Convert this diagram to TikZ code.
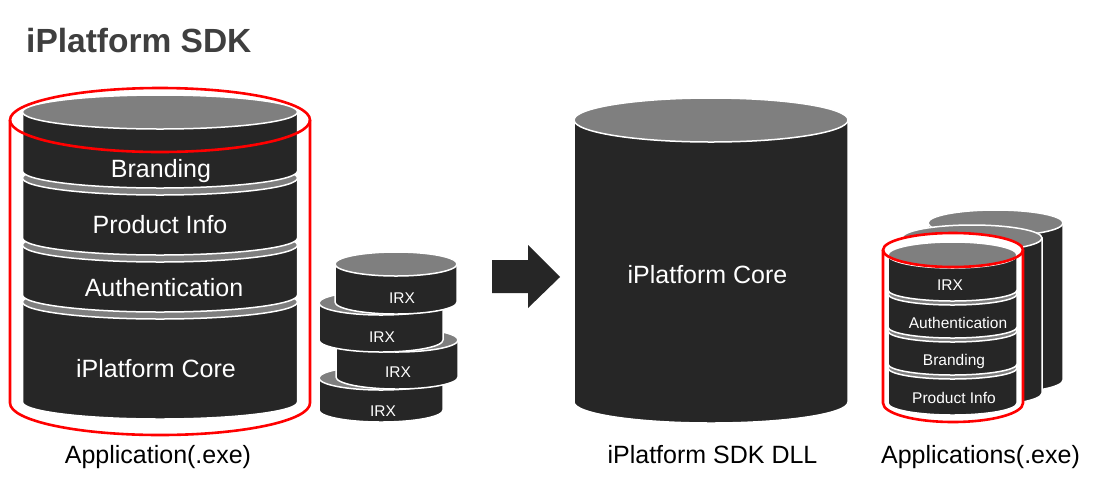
\documentclass[tikz,border=0pt]{standalone}
\usepackage{fontspec}
\setmainfont{Liberation Sans}
\definecolor{bodyc}{HTML}{262626}
\definecolor{topc}{HTML}{7F7F7F}
\definecolor{redc}{HTML}{FF0000}
\definecolor{titlec}{HTML}{3F3F3F}
\tikzset{
  bodyfill/.style={fill=bodyc, draw=white, line width=1.5pt},
  topfill/.style={fill=topc, draw=white, line width=1.5pt},
  redline/.style={draw=redc, line width=2.6pt},
  bigtxt/.style={text=white, font=\fontsize{25}{30}\selectfont, inner sep=0pt, anchor=base},
  smalltxt/.style={text=white, font=\fontsize{15.5}{18}\selectfont, inner sep=0pt, anchor=base},
  labeltxt/.style={text=black, font=\fontsize{25}{30}\selectfont, inner sep=0pt, anchor=base},
}
% cx, top, bottom, rx, ry top, ry bottom
\newcommand\cylseg[6]{%
  \filldraw[bodyfill] ({#1-#4},#2) -- ({#1-#4},#3) arc[start angle=180,end angle=0,x radius=#4,y radius=#6] -- ({#1+#4},#2) -- cycle;
  \filldraw[topfill] (#1,#2) ellipse[x radius=#4,y radius=#5];
}
% red cylinder outline: cx, top, bottom, rx, ry top, ry bottom, fill
\newcommand\redcyl[7]{%
  \path[fill=#7] ({#1-#4},#2) -- ({#1-#4},#3) arc[start angle=180,end angle=0,x radius=#4,y radius=#6] -- ({#1+#4},#2) arc[start angle=0,end angle=-180,x radius=#4,y radius=#5] -- cycle;
}
\newcommand\redcyldraw[6]{%
  \draw[redline] ({#1-#4},#2) -- ({#1-#4},#3) arc[start angle=180,end angle=0,x radius=#4,y radius=#6] -- ({#1+#4},#2);
  \draw[redline] (#1,#2) ellipse[x radius=#4,y radius=#5];
}
\begin{document}
\begin{tikzpicture}[x=1pt,y=-1pt]
\useasboundingbox[fill=white] (0,0) rectangle (1099,483);

% title
\node[text=titlec, font=\fontsize{33.5}{40}\selectfont\bfseries, inner sep=0pt, anchor=base west] (title) at (26,52) {iPlatform SDK};

% ---- left application cylinder ----
\cylseg{160}{302}{402}{137.5}{17}{17}
\cylseg{160}{245}{295}{137.5}{17}{17}
\cylseg{160}{178}{238}{137.5}{17}{17}
\cylseg{160}{112}{171}{137.5}{17}{17}
\node[bigtxt] (lbrand) at (161,177) {Branding};
\node[bigtxt] (lprod) at (160,233) {Product Info};
\node[bigtxt] (lauth) at (164,296) {Authentication};
\node[bigtxt] (lcore) at (156,377) {iPlatform Core};
\redcyldraw{160}{120}{403}{150}{32}{32}
\node[labeltxt] (lapp) at (158,463) {Application(.exe)};

% ---- IRX stack ----
\cylseg{381}{378}{410}{62}{12}{12}
\cylseg{397}{340}{377}{61}{12}{12}
\cylseg{381}{303}{340}{62}{12}{12}
\cylseg{396}{264}{302}{61}{12}{12}
\node[smalltxt] (irxa) at (402,303) {IRX};
\node[smalltxt] (irxb) at (382,342) {IRX};
\node[smalltxt] (irxc) at (398,377) {IRX};
\node[smalltxt] (irxd) at (383,416) {IRX};

% ---- block arrow ----
\fill[bodyc] (492,260) -- (528,260) -- (528,245) -- (560,277) -- (528,308) -- (528,293) -- (492,293) -- cycle;

% ---- SDK DLL cylinder ----
\cylseg{711}{120}{402}{137}{22}{21}
\node[bigtxt] (mcore) at (707.5,283) {iPlatform Core};
\node[labeltxt] (mlab) at (712.5,463) {iPlatform SDK DLL};

% ---- applications stack ----
\cylseg{995.5}{223}{380}{67.5}{13}{13}
\cylseg{972}{238}{393}{70}{13}{13}
\redcyl{953}{250}{403}{70}{17}{19}{white}
\cylseg{952.5}{368}{403}{64.5}{11}{12}
\cylseg{952.5}{331}{364}{64.5}{11}{11}
\cylseg{952.5}{294}{327}{64.5}{11}{11}
\cylseg{952.5}{255}{290}{64.5}{13}{11}
\node[smalltxt] (rirx) at (950,290) {IRX};
\node[smalltxt] (rauth) at (958,328) {Authentication};
\node[smalltxt] (rbrand) at (954,365) {Branding};
\node[smalltxt] (rprod) at (954,403) {Product Info};
\redcyldraw{953}{250}{403}{70}{17}{19}
\node[labeltxt] (rlab) at (980.5,463) {Applications(.exe)};
\end{tikzpicture}
\end{document}
